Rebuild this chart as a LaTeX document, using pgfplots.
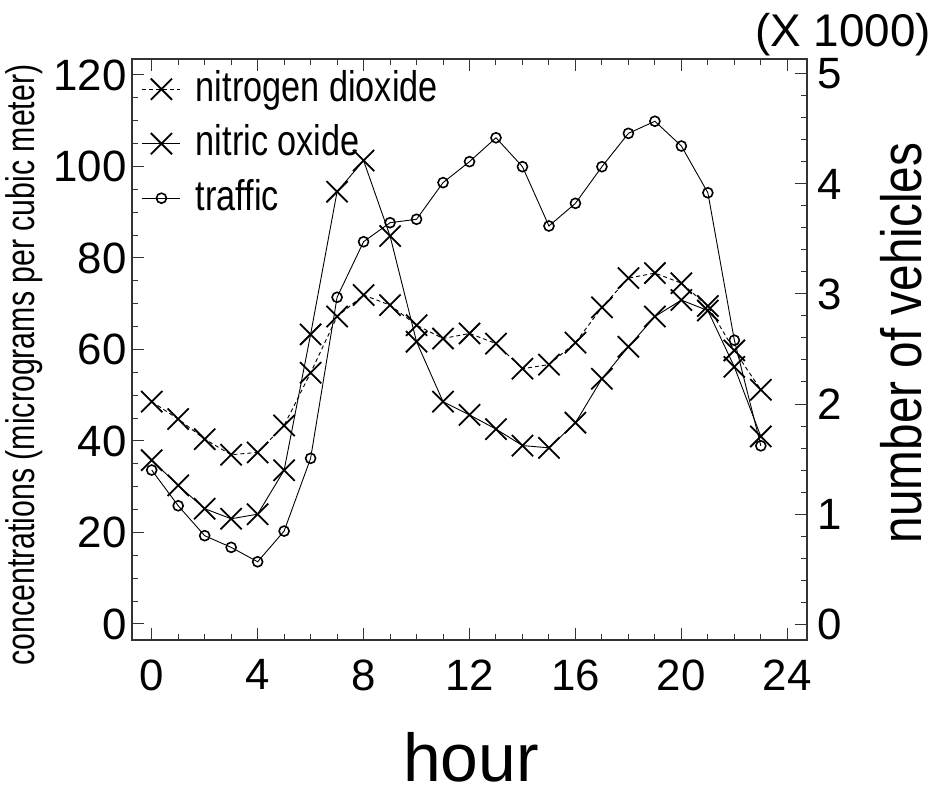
\documentclass[border=0pt]{standalone}
\usepackage{fontspec}
\setmainfont{Liberation Sans}
\newfontfamily\narrowA[FakeStretch=0.76]{Liberation Sans}
\newfontfamily\narrowB[FakeStretch=0.80]{Liberation Sans}
\newfontfamily\narrowC[FakeStretch=0.84]{Liberation Sans}
\usepackage{pgfplots}
\pgfplotsset{compat=1.18}
\pgfplotstableread{
h no2 no
0 48.6 35.8
1 44.8 30.3
2 40.4 25.2
3 37.0 23.0
4 37.5 24.0
5 43.4 33.6
6 54.9 63.3
7 67.2 94.5
8 71.9 101.3
9 69.7 84.8
10 65.3 61.7
11 62.4 48.6
12 63.5 45.7
13 61.3 42.6
14 55.8 39.0
15 56.7 38.5
16 61.5 44.0
17 69.2 53.6
18 75.6 60.6
19 76.7 67.2
20 74.5 70.8
21 69.5 68.5
22 59.8 56.2
23 51.2 41.0
}\conc
\pgfplotstableread{
h traffic
0 1.40
1 1.075
2 0.803
3 0.697
4 0.566
5 0.845
6 1.506
7 2.97
8 3.475
9 3.648
10 3.679
11 4.012
12 4.203
13 4.42
14 4.157
15 3.618
16 3.824
17 4.157
18 4.46
19 4.57
20 4.345
21 3.92
22 2.58
23 1.62
}\traffic
\begin{document}
\begin{tikzpicture}[x=1bp,y=1bp]
\useasboundingbox (0,0) rectangle (936,796);
\pgfplotsset{
  common/.style={
    at={(132bp,156bp)}, anchor=south west,
    scale only axis, width=675bp, height=581bp,
    xmin=-0.744, xmax=24.744,
    tick align=inside,
    major tick length=12bp, minor tick length=6bp,
    axis line style={line width=1.2bp, black!80},
    tick style={line width=1bp, black!80},
    ticklabel style={font=\fontsize{44}{44}\selectfont},
    /pgf/number format/assume math mode=true,
  }
}
\begin{axis}[common,
  ymin=-3.5, ymax=123.5,
  xtick={0,4,...,24}, ytick={0,20,...,120},
  minor x tick num=3, minor y tick num=3,
  ytick pos=left, xtick pos=both, xticklabel pos=lower,
  xticklabel style={yshift=-16bp},
  yticklabel style={xshift=-2bp},
  legend style={draw=none, fill=none, at={(axis description cs:0.0148,0.979)},
    anchor=north west, inner sep=0pt, outer sep=0pt, row sep=15.5bp, column sep=15bp,
    nodes={inner sep=0pt, text height=30bp, text depth=9bp,
      font=\narrowB\fontsize{43}{43}\selectfont}},
  legend cell align=left,
  legend image code/.code={\draw[#1, mark repeat=2, mark phase=2] plot coordinates {(0bp,1.5bp) (19bp,1.5bp) (38bp,1.5bp)};},
]
\addplot[black, line width=0.9bp, dash pattern=on 4bp off 3bp, mark=x, mark size=15bp,
  mark options={solid, line width=1.8bp}] table[x=h, y=no2] {\conc};
\addlegendentry{nitrogen dioxide}
\addplot[black, line width=0.9bp, mark=x, mark size=15bp,
  mark options={solid, line width=1.8bp}] table[x=h, y=no] {\conc};
\addlegendentry{nitric oxide}
\addlegendimage{black, line width=0.9bp, mark=o, mark size=5bp, mark options={solid, line width=1.6bp}}
\addlegendentry{traffic}
\end{axis}
\begin{axis}[common,
  ymin=-0.145, ymax=5.136,
  ytick={0,1,...,5}, minor y tick num=4,
  axis x line=none, axis y line*=right, ytick pos=right,
  yticklabel style={xshift=7bp},
]
\addplot[black, line width=0.9bp, mark=o, mark size=5bp,
  mark options={solid, line width=1.6bp}] table[x=h, y=traffic] {\traffic};
\end{axis}
\node[rotate=90, inner sep=0pt, font=\narrowA\fontsize{40}{40}\selectfont] at (24,431) {concentrations (micrograms per cubic meter)};
\node[rotate=90, inner sep=0pt, font=\narrowC\fontsize{57}{57}\selectfont] at (901,453) {number of vehicles};
\node[anchor=base, inner sep=0pt, font=\fontsize{68}{68}\selectfont] at (471,14) {hour};
\node[inner sep=0pt, font=\fontsize{46}{46}\selectfont] at (843,761) {(X 1000)};
\end{tikzpicture}
\end{document}
